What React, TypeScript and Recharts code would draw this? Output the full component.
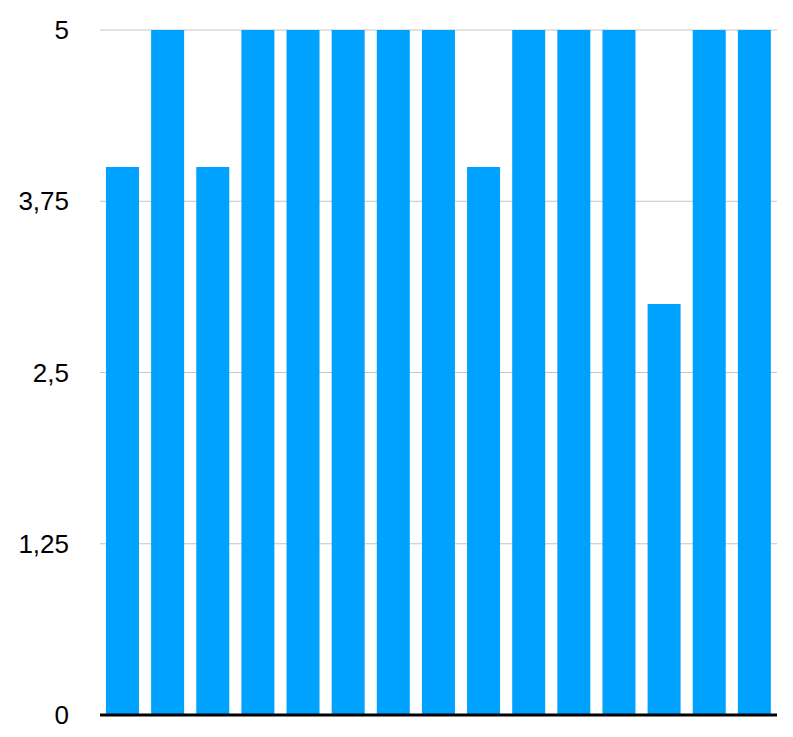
import { BarChart, Bar, XAxis, YAxis, CartesianGrid, ReferenceLine } from "recharts";

const categories = ["1", "2", "3", "4", "5", "6", "7", "8", "9", "10", "11", "12", "13", "14", "15"];
const values = [4, 5, 4, 5, 5, 5, 5, 5, 4, 5, 5, 5, 3, 5, 5];
const yTicks = [0, 1.25, 2.5, 3.75, 5];

const data = categories.map((name, i) => ({ name, value: values[i] }));

export default function App() {
  return (
    <div style={{ width: 785, height: 729, fontFamily: "'Liberation Sans', Arial, sans-serif" }}>
      <BarChart width={785} height={729} data={data} margin={{ top: 22, right: 16, bottom: 22, left: 0 }} barSize={33}>
        <CartesianGrid stroke="#c4c4c4" vertical={false} />
        <XAxis dataKey="name" hide />
        <YAxis
          domain={[0, 5]}
          ticks={yTicks}
          interval={0}
          width={92}
          axisLine={false}
          tickLine={false}
          tickSize={0}
          tickMargin={31}
          tickFormatter={(v: number) => String(v).replace(".", ",")}
          tick={{ fill: "#000000", fontSize: 26 }}
        />
        <Bar dataKey="value" fill="#00A2FF" isAnimationActive={false} />
        <ReferenceLine y={0} stroke="#000000" strokeWidth={3} />
      </BarChart>
    </div>
  );
}
